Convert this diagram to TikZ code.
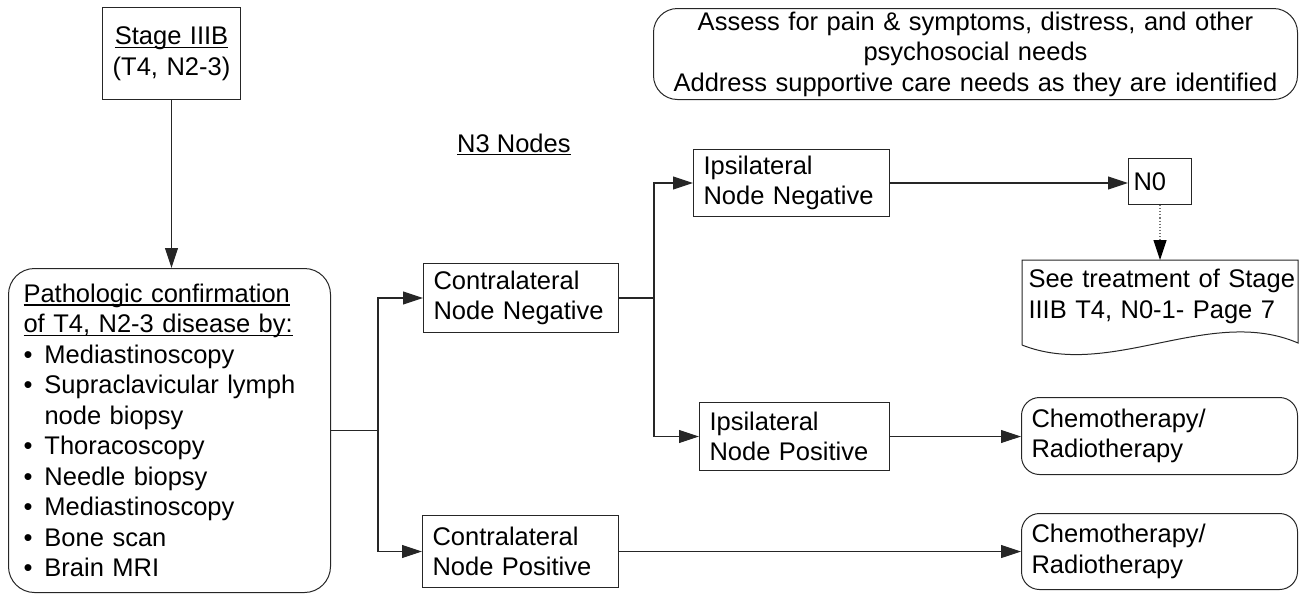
\documentclass[tikz,border=0pt]{standalone}
\usepackage{fontspec}
\setmainfont{Liberation Sans}
\usetikzlibrary{arrows.meta,calc}
\newcommand{\bul}{\makebox[21pt][l]{\textbullet}}
% underline drawn at a fixed depth below the baseline
\newsavebox{\ulinebox}
\newcommand{\uline}[1]{\leavevmode\sbox{\ulinebox}{#1}\rlap{\rule[-3.2pt]{\wd\ulinebox}{1.1pt}}\usebox{\ulinebox}}
\begin{document}
\begin{tikzpicture}[x=1pt,y=-1pt,
  every node/.style={font=\fontsize{25.5}{30.5}\selectfont},
  box/.style={draw=black!85, line width=1pt, rectangle, inner xsep=10pt, inner ysep=0pt, align=left, anchor=north west},
  rbox/.style={box, rounded corners=18pt},
  conn/.style={draw=black!85, line width=1.1pt},
  arr/.style={conn, -{Triangle[length=20pt,width=13pt]}},
  dotarr/.style={draw=black!55, line width=1.1pt, dotted, -{Triangle[length=20pt,width=13pt,color=black]}}
]
\useasboundingbox (0,0) rectangle (1303,595);

% stage box
\node[box, align=center, text width=118pt, minimum height=92pt] (stage) at (102,7)
  {\uline{Stage IIIB}\\(T4, N2-3)};

% supportive care note
\node[rbox, rounded corners=24pt, align=center, text width=624pt, minimum height=91pt] (care) at (653,8)
  {Assess for pain \& symptoms, distress, and other\\psychosocial needs\\Address supportive care needs as they are identified};

% work-up box
\node[rbox, rounded corners=26pt, inner xsep=15pt, text width=292pt, minimum height=324pt] (path) at (8,268)
  {\uline{Pathologic confirmation}\\
   \uline{of T4, N2-3 disease by:}\\
   \bul Mediastinoscopy\\
   \bul Supraclavicular lymph\\
   \hphantom{\bul}node biopsy\\
   \bul Thoracoscopy\\
   \bul Needle biopsy\\
   \bul Mediastinoscopy\\
   \bul Bone scan\\
   \bul Brain MRI};

\node[anchor=base west, inner sep=0pt] (n3) at (457,152) {\uline{N3 Nodes}};

% contralateral branch
\node[box, text width=175pt, minimum height=69pt] (cneg) at (423,263) {Contralateral\\Node Negative};
\node[box, text width=176pt, minimum height=72pt] (cpos) at (422,515) {Contralateral\\Node Positive};

% ipsilateral branch
\node[box, text width=176pt, minimum height=67pt] (ineg) at (693,149) {Ipsilateral\\Node Negative};
\node[box, text width=170pt, minimum height=68pt] (ipos) at (699,402) {Ipsilateral\\Node Positive};

% outcomes
\node[box, inner xsep=5pt, text width=53pt, minimum height=46pt] (n0) at (1128,158) {N0};
\node[rbox, text width=256pt, minimum height=77pt] (chemoA) at (1021,397) {Chemotherapy/\\Radiotherapy};
\node[rbox, text width=256pt, minimum height=76pt] (chemoB) at (1021,513) {Chemotherapy/\\Radiotherapy};

% document shape with wavy bottom
\node[box, draw=none, inner xsep=6pt, text width=264pt, minimum height=72pt] (doc) at (1022,260)
  {\mbox{See treatment of Stage}\\\mbox{IIIB T4, N0-1- Page 7}};
\draw[draw=black!85, line width=1pt] (1022,345) -- (1022,260) -- (1298,260) -- (1298,343)
  .. controls (1210,305) and (1110,380) .. (1022,345);

% connectors
\draw[arr] (stage.south) -- (stage.south |- path.north);
\coordinate (j1) at ($(path.east)+(47,0)$);
\draw[conn] (path.east) -- (j1);
\draw[arr] (j1) |- (cneg.west);
\draw[arr] (j1) |- (cpos.west);
\coordinate (j2) at ($(cneg.east)+(35,0)$);
\draw[conn] (cneg.east) -- (j2);
\draw[arr] (j2) |- (ineg.west);
\draw[arr] (j2) |- (ipos.west);
\draw[arr] (ineg.east) -- (ineg.east -| n0.west);
\draw[dotarr] (n0.south) -- (n0.south |- doc.north);
\draw[arr] (ipos.east) -- (ipos.east -| chemoA.west);
\draw[arr] (cpos.east) -- (cpos.east -| chemoB.west);
\end{tikzpicture}
\end{document}
